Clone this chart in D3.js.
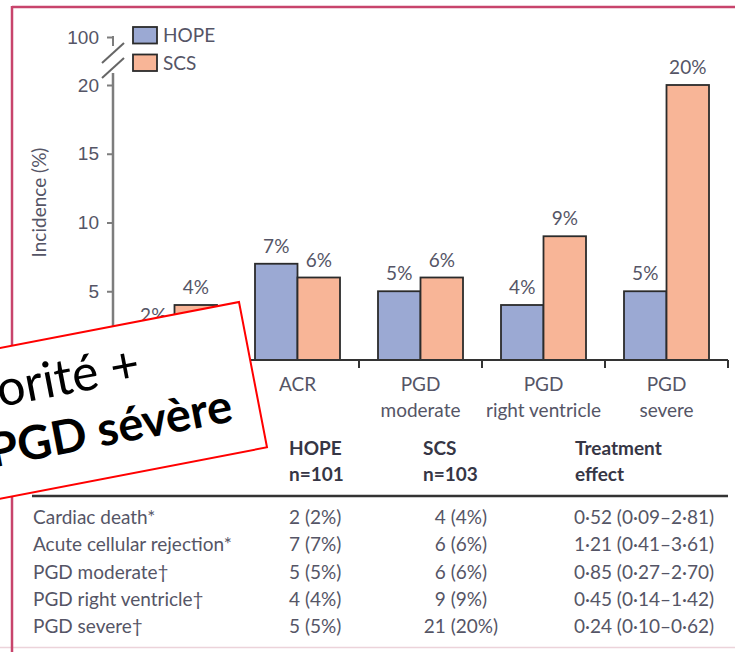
<!DOCTYPE html>
<html>
<head>
<meta charset="utf-8">
<script src="https://cdn.jsdelivr.net/npm/d3@7"></script>
<style>
  body { margin: 0; background: #fff; }
  svg { display: block; font-family: Lato, "Open Sans", sans-serif; }
  .lbl { fill: #555566; font-size: 19px; }
  .hdr { fill: #363645; font-size: 19px; font-weight: 700; }
</style>
</head>
<body>
<div id="chart"></div>
<script>
const categories = ['Cardiac death', 'ACR', 'PGD moderate', 'PGD right ventricle', 'PGD severe'];
const categoryLines = [['Cardiac', 'death'], ['ACR'], ['PGD', 'moderate'], ['PGD', 'right ventricle'], ['PGD', 'severe']];
const groups = ['HOPE', 'SCS'];
const hopeValues = [2, 7, 5, 4, 5];
const scsValues = [4, 6, 6, 9, 20];
const yTicks = [5, 10, 15, 20];

const rowLabels = ['Cardiac death*', 'Acute cellular rejection*', 'PGD moderate†', 'PGD right ventricle†', 'PGD severe†'];
const hopeCounts = ['2 (2%)', '7 (7%)', '5 (5%)', '4 (4%)', '5 (5%)'];
const scsCounts = ['4 (4%)', '6 (6%)', '6 (6%)', '9 (9%)', '21 (20%)'];
const effects = ['0·52 (0·09–2·81)', '1·21 (0·41–3·61)', '0·85 (0·27–2·70)', '0·45 (0·14–1·42)', '0·24 (0·10–0·62)'];
const headers = [['HOPE', 'n=101'], ['SCS', 'n=103'], ['Treatment', 'effect']];

const noteLines = ['Supériorité +', 'PGD sévère'];

const width = 735, height = 652;
const colors = { HOPE: '#9ba9d3', SCS: '#f8b597' };

const svg = d3.select('#chart').append('svg')
  .attr('width', width)
  .attr('height', height);

svg.append('rect').attr('width', width).attr('height', height).attr('fill', '#fff');

// page frame
svg.append('line').attr('x1', 0).attr('x2', width).attr('y1', 647.5).attr('y2', 647.5)
  .attr('stroke', '#ecd3da').attr('stroke-width', 1.5);
svg.append('line').attr('x1', 12).attr('x2', width).attr('y1', 7).attr('y2', 7)
  .attr('stroke', '#c8446c').attr('stroke-width', 2.5);
svg.append('line').attr('x1', 12).attr('x2', 12).attr('y1', 6).attr('y2', height)
  .attr('stroke', '#c8446c').attr('stroke-width', 2.5);

const left = 113, right = 728, base = 360;

const x0 = d3.scaleBand().domain(categories).range([left, right]);
const x1 = d3.scaleBand().domain(groups).range([0, x0.bandwidth()]).paddingOuter(0.447);
const y = d3.scaleLinear().domain([0, 20]).range([base, 85]);
const yBreak = d3.scaleLinear().domain([90, 100]).range([57, 37]);

// y axis
const yAxis = svg.append('g')
  .attr('transform', `translate(${left},0)`)
  .call(d3.axisLeft(y).tickValues(yTicks).tickSize(6).tickPadding(8).tickSizeOuter(0));
const yAxisTop = svg.append('g')
  .attr('transform', `translate(${left},0)`)
  .call(d3.axisLeft(yBreak).tickValues([100]).tickSize(6).tickPadding(8).tickSizeOuter(0));

[yAxis, yAxisTop].forEach(g => {
  g.select('.domain').remove();
  g.selectAll('line').attr('stroke', '#7d7d7d').attr('stroke-width', 2);
  g.selectAll('text').attr('class', 'lbl').attr('font-family', null).attr('font-size', null).attr('fill', null);
});

const yb = yBreak(100);
svg.append('line').attr('x1', left).attr('x2', left).attr('y1', base).attr('y2', y(20) - 12)
  .attr('stroke', '#7d7d7d').attr('stroke-width', 2.5);
svg.append('line').attr('x1', left).attr('x2', left).attr('y1', yb - 1).attr('y2', yb + 9)
  .attr('stroke', '#7d7d7d').attr('stroke-width', 2);
[[26, 6], [41, 21]].forEach(([a, b]) => {
  svg.append('line')
    .attr('x1', left - 11).attr('y1', yb + a)
    .attr('x2', left + 11).attr('y2', yb + b)
    .attr('stroke', '#666').attr('stroke-width', 2);
});

svg.append('text')
  .attr('class', 'lbl')
  .attr('font-size', 17)
  .attr('transform', `translate(46, ${y(10) - 20}) rotate(-90)`)
  .attr('text-anchor', 'middle')
  .text('Incidence (%)');

// bars
const data = categories.map((c, i) => ({ cat: c, values: [
  { key: 'HOPE', value: hopeValues[i] },
  { key: 'SCS', value: scsValues[i] }
] }));

const groupSel = svg.append('g').selectAll('g')
  .data(data)
  .join('g')
  .attr('transform', d => `translate(${x0(d.cat)},0)`);

groupSel.selectAll('rect')
  .data(d => d.values)
  .join('rect')
  .attr('x', d => x1(d.key))
  .attr('y', d => y(d.value))
  .attr('width', x1.bandwidth())
  .attr('height', d => y(0) - y(d.value))
  .attr('fill', d => colors[d.key])
  .attr('stroke', '#2b2b2b')
  .attr('stroke-width', 1.8);

groupSel.selectAll('text.val')
  .data(d => d.values)
  .join('text')
  .attr('class', 'lbl val')
  .attr('x', d => x1(d.key) + x1.bandwidth() / 2)
  .attr('y', d => y(d.value) - 11)
  .attr('text-anchor', 'middle')
  .text(d => d.value + '%');

// x axis
svg.append('line').attr('x1', left).attr('x2', right).attr('y1', base).attr('y2', base)
  .attr('stroke', '#333').attr('stroke-width', 2);
svg.append('g').selectAll('line')
  .data(categories)
  .join('line')
  .attr('x1', d => x0(d) + x0.step())
  .attr('x2', d => x0(d) + x0.step())
  .attr('y1', base)
  .attr('y2', base + 8)
  .attr('stroke', '#333')
  .attr('stroke-width', 2);

svg.append('g').selectAll('text')
  .data(categories)
  .join('text')
  .attr('class', 'lbl')
  .attr('text-anchor', 'middle')
  .attr('x', d => x0(d) + x0.bandwidth() / 2)
  .attr('y', base + 31)
  .selectAll('tspan')
  .data((d, i) => categoryLines[i])
  .join('tspan')
  .attr('x', function () { return this.parentNode.getAttribute('x'); })
  .attr('dy', (d, i) => i === 0 ? 0 : 26)
  .text(d => d);

// legend
groups.forEach((g, i) => {
  const ly = 27 + i * 27.5;
  svg.append('rect').attr('x', 133).attr('y', ly).attr('width', 24).attr('height', 16.5)
    .attr('fill', colors[g]).attr('stroke', '#2b2b2b').attr('stroke-width', 1.8);
  svg.append('text').attr('class', 'lbl').attr('fill', '#4a4a5c')
    .attr('font-size', 18).attr('x', 163).attr('y', ly + 15).text(g);
});

// table
const headerX = [289, 423, 575];
headers.forEach((h, i) => {
  h.forEach((t, j) => {
    svg.append('text').attr('class', 'hdr')
      .attr('x', headerX[i]).attr('y', 455 + j * 26).text(t);
  });
});
svg.append('line').attr('x1', 32).attr('x2', right).attr('y1', 496).attr('y2', 496)
  .attr('stroke', '#333').attr('stroke-width', 2.5);

const rowY = d3.scalePoint().domain(rowLabels).range([524, 633]);
const rows = svg.append('g').selectAll('g')
  .data(rowLabels)
  .join('g')
  .attr('transform', d => `translate(0,${rowY(d)})`);
rows.append('text').attr('class', 'lbl').attr('x', 33).text(d => d);
rows.append('text').attr('class', 'lbl').attr('x', 289).text((d, i) => hopeCounts[i]);
rows.append('text').attr('class', 'lbl').attr('x', 461).attr('text-anchor', 'middle').text((d, i) => scsCounts[i]);
rows.append('text').attr('class', 'lbl').attr('x', 574).text((d, i) => effects[i]);

// slide annotation box
const note = svg.append('g').attr('transform', 'translate(239,302) rotate(-10.9)');
note.append('rect')
  .attr('x', -460).attr('y', 0).attr('width', 460).attr('height', 148)
  .attr('fill', '#fff').attr('stroke', '#ff0000').attr('stroke-width', 2);
note.append('text')
  .attr('x', -110).attr('y', 58)
  .attr('text-anchor', 'end')
  .attr('font-size', 50)
  .attr('fill', '#000')
  .text(noteLines[0]);
note.append('text')
  .attr('x', -27).attr('y', 116)
  .attr('text-anchor', 'end')
  .attr('font-size', 47)
  .attr('font-weight', 700)
  .attr('fill', '#000')
  .text(noteLines[1]);
</script>
</body>
</html>
